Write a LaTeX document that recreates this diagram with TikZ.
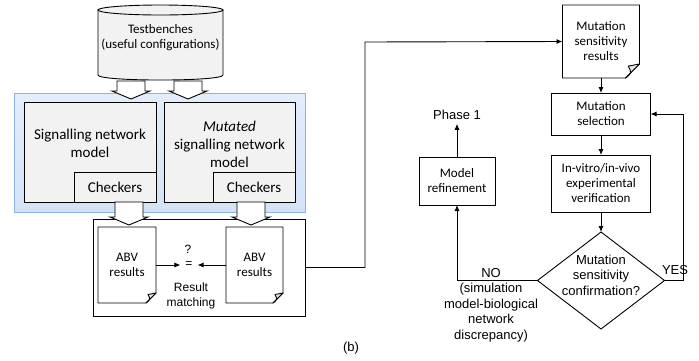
\documentclass[tikz,border=0pt]{standalone}
\usepackage{fontspec}
\setmainfont{Carlito}
\newfontfamily\arialf{Liberation Sans}
\usetikzlibrary{arrows.meta, shapes.geometric}
\definecolor{panelblue}{HTML}{D3E3F7}
\definecolor{paneltop}{HTML}{E3EDFA}
\definecolor{paneledge}{HTML}{8FB3E3}

\begin{document}
\begin{tikzpicture}[x=1pt, y=-1pt, line width=0.9pt,
    every node/.style={outer sep=0pt, inner sep=0pt, align=center},
    big/.style={font=\fontsize{15}{18}\selectfont},
    small/.style={font=\fontsize{13}{15}\selectfont},
    arial/.style={font=\arialf\fontsize{13}{15.5}\selectfont},
    arialsm/.style={font=\arialf\fontsize{12}{15}\selectfont},
    modelbox/.style={draw, fill=gray!10},
    plainbox/.style={draw, fill=white, small},
    decision/.style={draw, fill=white, diamond},
    arr/.style={-{Latex[length=6pt, width=5pt]}},
    fat/.style={draw, fill=white, line join=miter}]
  \useasboundingbox (0,0) rectangle (699,360);

  \node[draw=paneledge, line width=1pt, top color=paneltop, bottom color=panelblue, minimum width=291, minimum height=119] (panel) at (159.5,152.5) {};
  \node[modelbox, minimum width=132, minimum height=100] (sig) at (90,152) {};
  \node[modelbox, minimum width=131, minimum height=100] (mut) at (229.5,152) {};
  \node[big] (sigtxt) at (90,143.5) {Signalling network\\model};
  \node[big] (muttxt) at (229.5,144) {\textit{Mutated}\\signalling network\\model};
  \node[modelbox, big, minimum width=82, minimum height=30] (chk1) at (115,187) {Checkers};
  \node[modelbox, big, minimum width=82, minimum height=30] (chk2) at (254,187) {Checkers};

  \node[draw, fill=white, minimum width=212, minimum height=97] (match) at (199,267.5) {};

  \draw[fill=gray!10] (98,10) -- (98,75) .. controls (98,81.7) and (223,81.7) .. (223,75) -- (223,10) -- cycle;
  \draw[fill=gray!10] (160.5,10) ellipse[x radius=62.5, y radius=5];
  \node[small] (tb) at (160.5,38) {Testbenches\\(useful configurations)};

  \foreach \cx/\ya/\yb in {131/81/99, 188/81/99, 129/202/225, 251/202/225}
    \draw[fat] (\cx-14,\ya) -- (\cx+14,\ya) -- (\cx+14,\yb-8) -- (\cx+19,\yb-8) -- (\cx,\yb) -- (\cx-19,\yb-8) -- (\cx-14,\yb-8) -- cycle;

  \node[small, minimum width=58, minimum height=76] (abv1) at (127,265) {ABV\\results};
  \node[small, minimum width=57, minimum height=76] (abv2) at (254.5,265) {ABV\\results};
  \node[small, minimum width=77, minimum height=73] (msr) at (601,41.5) {Mutation\\sensitivity\\results};
  \foreach \d/\f in {abv1/10, abv2/10, msr/14} {
    \draw (\d.north west) -- (\d.north east) -- ([yshift=\f]\d.south east) -- ([xshift=-\f]\d.south east) -- (\d.south west) -- cycle;
    \draw[fill=gray!20, line join=round] ([xshift=-\f]\d.south east) .. controls ([xshift={-0.55*\f}, yshift={0.35*\f}]\d.south east) .. ([xshift={-0.8*\f}, yshift={0.85*\f}]\d.south east) -- ([yshift=\f]\d.south east) -- cycle;
  }

  \node[arialsm] (q) at (188,249) {?};
  \node[arialsm] (eq) at (189,265) {=};
  \node[arialsm] (rmtxt) at (191,295.5) {Result\\matching};
  \draw[arr, shorten >=5pt] (abv1.east) -- (eq.west);
  \draw[arr, shorten >=5pt] (abv2.west) -- (eq.east);

  \coordinate (turn) at (365,42);
  \draw[arr] (match.east) -| (turn) -- (msr.west);

  \node[plainbox, minimum width=99, minimum height=42] (msel) at (601,114) {Mutation\\selection};
  \node[plainbox, minimum width=99, minimum height=57] (vitro) at (601,183.5) {In-vitro/in-vivo\\experimental\\verification};
  \node[plainbox, minimum width=76, minimum height=48] (refine) at (457,181) {Model\\refinement};
  \node[decision, minimum width=127, minimum height=97] (conf) at (601,280.5) {};
  \node[arial] (conftxt) at (601,275) {Mutation\\sensitivity\\confirmation?};
  \node[arial] (phase) at (457,115) {Phase 1};
  \node[arial] (no) at (491,305) {NO\\(simulation\\model-biological\\network\\discrepancy)};
  \node[arial] (yes) at (675,270) {YES};
  \node[arial] (b) at (351,348) {(b)};

  \draw[arr] (msr.south) -- (msel.north);
  \draw[arr] (msel.south) -- (vitro.north);
  \draw[arr] (vitro.south) -- (conf.north);
  \draw[arr] (conf.east) -- ++(19,0) |- (msel.east);
  \draw[arr] (conf.west) -| (refine.south);
  \draw[arr, shorten >=4pt] (refine.north) -- (phase.south);
\end{tikzpicture}
\end{document}
